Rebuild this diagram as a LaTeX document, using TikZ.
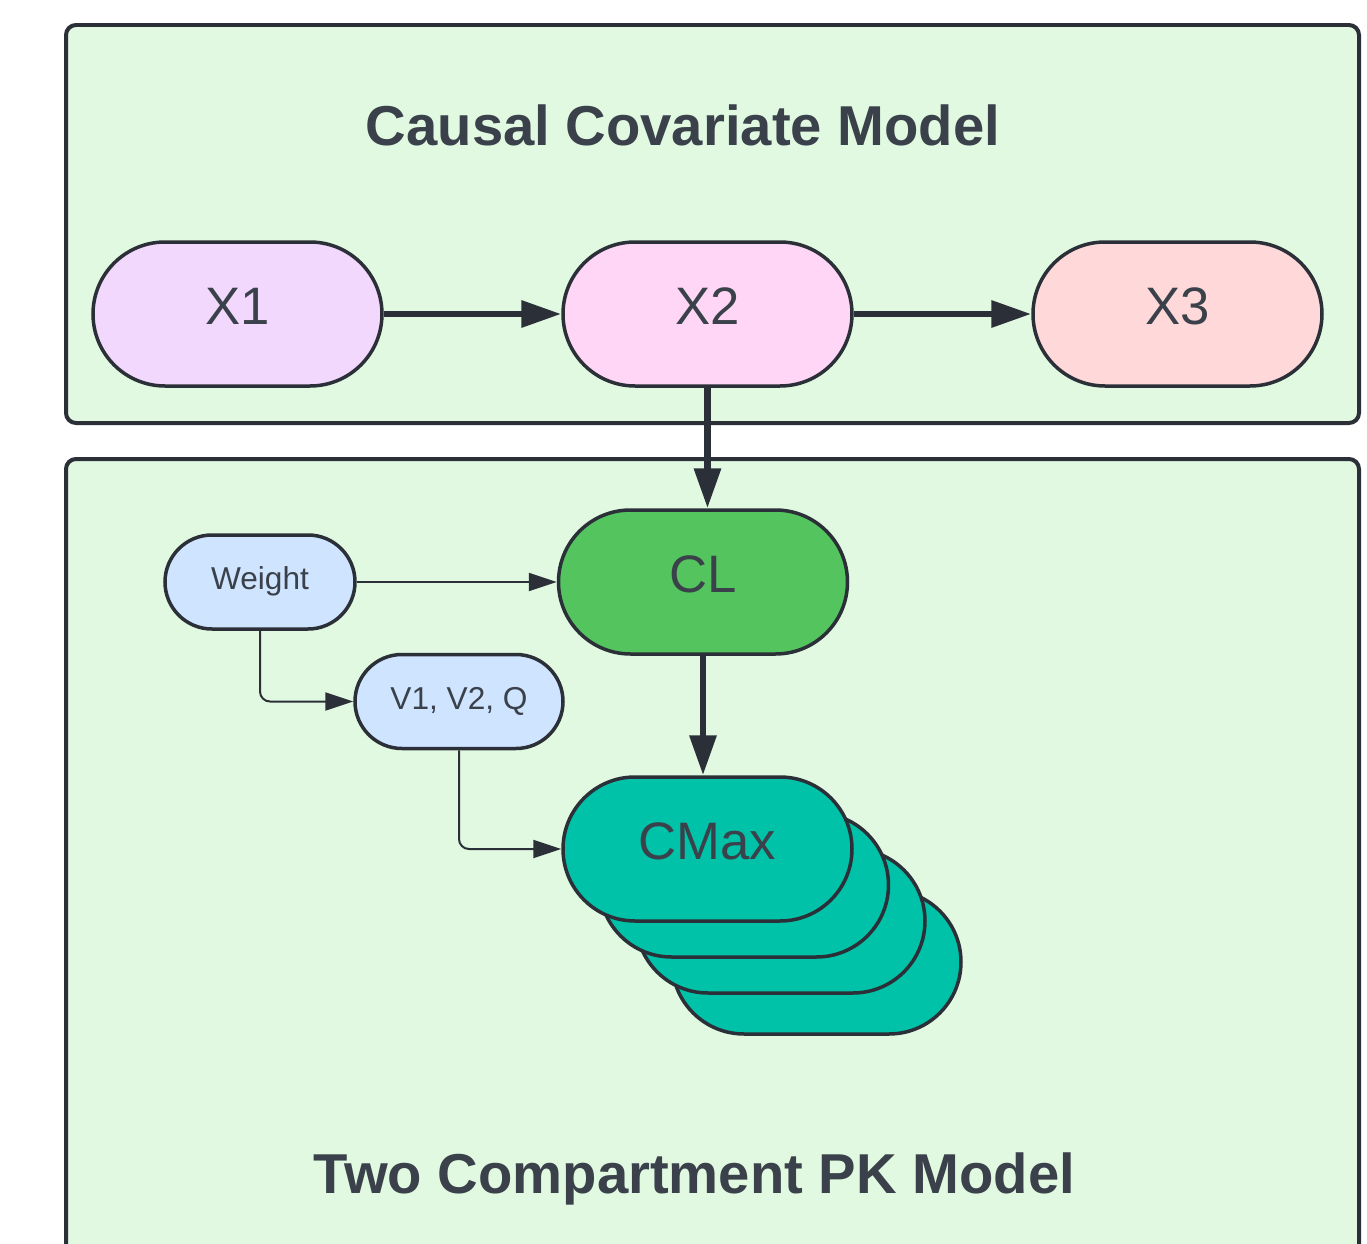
\documentclass[tikz,border=0pt]{standalone}
\usepackage{fontspec}
\setmainfont{Liberation Sans}
\usetikzlibrary{arrows.meta,positioning}
\definecolor{panelgreen}{HTML}{E1F9E1}
\definecolor{lineclr}{HTML}{2B3038}
\definecolor{textclr}{HTML}{3A414A}
\definecolor{xonefill}{HTML}{F2D8FC}
\definecolor{xtwofill}{HTML}{FFD6F5}
\definecolor{xthreefill}{HTML}{FFD9D9}
\definecolor{clgreen}{HTML}{54C45E}
\definecolor{cmaxteal}{HTML}{00C2A8}
\definecolor{paramblue}{HTML}{CFE4FF}
\tikzset{
  panel/.style={draw=lineclr, line width=0.04cm, fill=panelgreen, rounded corners=0.1cm},
  pill/.style={draw=lineclr, line width=0.035cm, rectangle, rounded corners=0.72cm,
    minimum width=2.89cm, minimum height=1.44cm, inner sep=0pt, text=textclr,
    font=\fontsize{15}{18}\selectfont, text height=0.38cm, text depth=0.18cm},
  smallpill/.style={pill, fill=paramblue, rounded corners=0.47cm, minimum height=0.94cm,
    font=\fontsize{9}{11}\selectfont, text height=0.23cm, text depth=0.08cm},
  bigarrow/.style={draw=lineclr, line width=0.065cm, -{Triangle[length=0.4cm,width=0.26cm]}},
  thinarrow/.style={draw=lineclr, line width=0.02cm, rounded corners=0.1cm,
    -{Triangle[length=0.28cm,width=0.18cm]}},
  paneltitle/.style={text=textclr, font=\fontsize{16}{19}\selectfont\bfseries, anchor=base}
}

\begin{document}
\begin{tikzpicture}
  \useasboundingbox (0,0) rectangle (13.67,-12.44);
  \fill[white] (0,0) rectangle (13.67,-12.44);

  % panels
  \draw[panel] (0.66,-0.25) rectangle (13.59,-4.23);
  \draw[panel] (0.66,-4.59) rectangle (13.59,-12.9);
  \node[paneltitle] (causaltitle) at (6.83,-1.46) {Causal Covariate Model};
  \node[paneltitle] (pktitle) at (6.945,-11.93) {Two Compartment PK Model};

  % covariates
  \node[pill, fill=xonefill] (x1) at (2.375,-3.14) {X1};
  \node[pill, fill=xtwofill, right=1.775cm of x1] (x2) {X2};
  \node[pill, fill=xthreefill, right=1.775cm of x2] (x3) {X3};

  % PK parameters
  \node[pill, fill=clgreen] (cl) at (7.03,-5.82) {CL};
  \node[smallpill, minimum width=1.90cm, left=2.0cm of cl] (weight) {Weight};
  \node[smallpill, minimum width=2.08cm, below right=0.22cm and -0.035cm of weight.south east] (vols) {V1, V2, Q};

  % stacked CMax
  \node[pill, fill=cmaxteal] (cmaxc) at (8.165,-9.62) {};
  \node[pill, fill=cmaxteal] (cmaxb) at (7.805,-9.21) {};
  \node[pill, fill=cmaxteal] (cmaxa) at (7.44,-8.85) {};
  \node[pill, fill=cmaxteal] (cmax) at (7.075,-8.49) {CMax};

  % edges
  \draw[bigarrow] (x1) -- (x2);
  \draw[bigarrow] (x2) -- (x3);
  \draw[bigarrow] (x2.south) -- (x2.south |- cl.north);
  \draw[bigarrow] (cl.south) -- (cl.south |- cmax.north);
  \draw[thinarrow] (weight) -- (cl);
  \draw[thinarrow] (weight.south) |- (vols.west);
  \draw[thinarrow] (vols.south) |- (cmax.west);
\end{tikzpicture}
\end{document}
